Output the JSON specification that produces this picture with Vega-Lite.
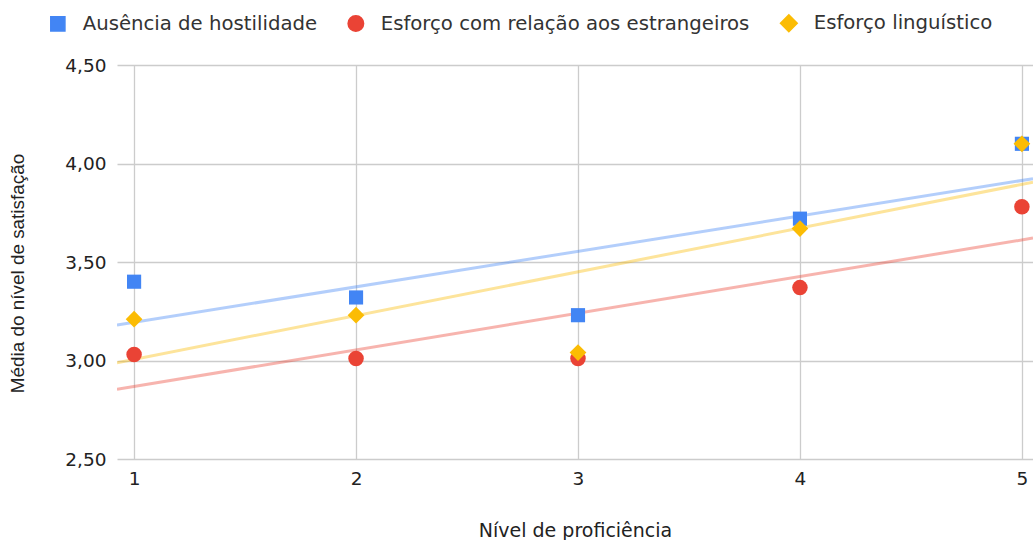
{
  "$schema": "https://vega.github.io/schema/vega-lite/v6.json",
  "width": 916,
  "height": 394,
  "padding": {"left": 8, "top": 13, "right": 0, "bottom": 0},
  "background": "white",
  "config": {
    "view": {"stroke": null},
    "axis": {"gridColor": "#cccccc", "gridWidth": 1.3, "domain": false, "ticks": false, "labelColor": "#222222", "titleColor": "#222222", "labelFont": "DejaVu Sans", "labelFontSize": 18.5, "titleFontWeight": "normal"}
  },
  "data": {
    "values": [
      {"nivel": 1, "serie": "Ausência de hostilidade", "media": 3.40},
      {"nivel": 2, "serie": "Ausência de hostilidade", "media": 3.32},
      {"nivel": 3, "serie": "Ausência de hostilidade", "media": 3.23},
      {"nivel": 4, "serie": "Ausência de hostilidade", "media": 3.72},
      {"nivel": 5, "serie": "Ausência de hostilidade", "media": 4.10},
      {"nivel": 1, "serie": "Esforço com relação aos estrangeiros", "media": 3.03},
      {"nivel": 2, "serie": "Esforço com relação aos estrangeiros", "media": 3.01},
      {"nivel": 3, "serie": "Esforço com relação aos estrangeiros", "media": 3.01},
      {"nivel": 4, "serie": "Esforço com relação aos estrangeiros", "media": 3.37},
      {"nivel": 5, "serie": "Esforço com relação aos estrangeiros", "media": 3.78},
      {"nivel": 1, "serie": "Esforço linguístico", "media": 3.21},
      {"nivel": 2, "serie": "Esforço linguístico", "media": 3.23},
      {"nivel": 3, "serie": "Esforço linguístico", "media": 3.04},
      {"nivel": 4, "serie": "Esforço linguístico", "media": 3.67},
      {"nivel": 5, "serie": "Esforço linguístico", "media": 4.10}
    ]
  },
  "encoding": {
    "x": {
      "field": "nivel", "type": "quantitative",
      "scale": {"domain": [0.923, 5.05], "nice": false, "zero": false},
      "axis": {"values": [1, 2, 3, 4, 5], "format": "d", "labelPadding": 10, "title": "Nível de proficiência", "titleFont": "DejaVu Sans", "titleFontSize": 19, "titlePadding": 34, "labelFlush": false}
    },
    "y": {
      "field": "media", "type": "quantitative",
      "scale": {"domain": [2.5, 4.5], "nice": false, "zero": false},
      "axis": {"values": [2.5, 3, 3.5, 4, 4.5], "labelExpr": "replace(format(datum.value, '.2f'), '.', ',')", "labelPadding": 11, "title": "Média do nível de satisfação", "titleFont": "Liberation Sans", "titleFontSize": 18.9, "titlePadding": 37, "titleY": 208}
    },
    "color": {"field": "serie", "type": "nominal",
      "scale": {"domain": ["Ausência de hostilidade", "Esforço com relação aos estrangeiros", "Esforço linguístico"], "range": ["#4285F4", "#EA4335", "#FBBC04"]},
      "legend": {"orient": "none", "legendX": -69, "legendY": -52, "direction": "horizontal", "labelFont": "DejaVu Sans", "labelFontSize": 19.7, "labelColor": "#333333", "labelOffset": 15, "columnPadding": 27, "labelLimit": 500, "symbolSize": 300, "symbolOpacity": 1, "title": null}}
  },
  "layer": [
    {
      "transform": [{"regression": "media", "on": "nivel", "groupby": ["serie"], "extent": [0.923, 5.05]}],
      "mark": {"type": "line", "strokeWidth": 3, "opacity": 0.4, "clip": true},
      "encoding": {}
    },
    {
      "mark": {"type": "point", "filled": true, "opacity": 1},
      "encoding": {
        "shape": {"field": "serie", "type": "nominal",
          "scale": {"domain": ["Ausência de hostilidade", "Esforço com relação aos estrangeiros", "Esforço linguístico"], "range": ["square", "circle", "diamond"]}},
        "size": {"field": "serie", "type": "nominal", "legend": null,
          "scale": {"domain": ["Ausência de hostilidade", "Esforço com relação aos estrangeiros", "Esforço linguístico"], "range": [200, 280, 380]}}
      }
    }
  ]
}
